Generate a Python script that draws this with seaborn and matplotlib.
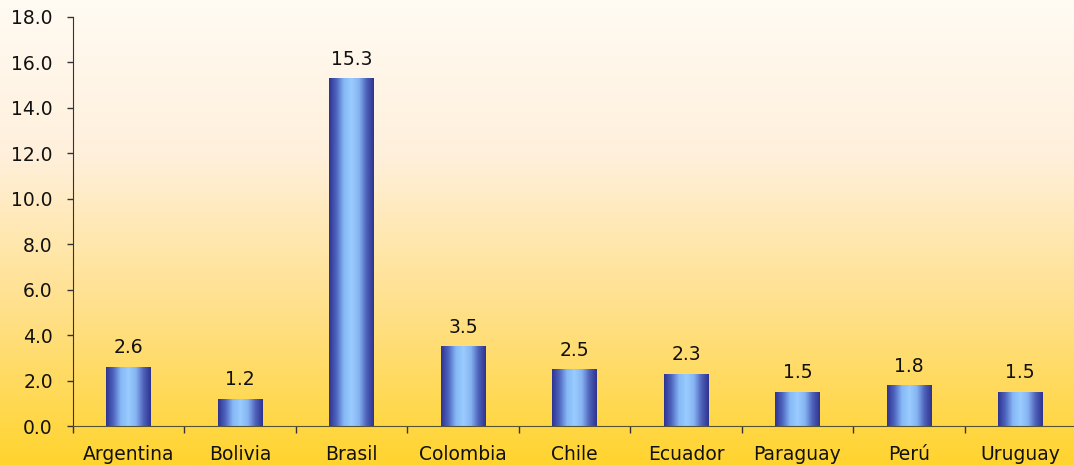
import numpy as np
import pandas as pd
import seaborn as sns
import matplotlib.pyplot as plt
from matplotlib.colors import LinearSegmentedColormap

countries = ['Argentina', 'Bolivia', 'Brasil', 'Colombia', 'Chile',
             'Ecuador', 'Paraguay', 'Perú', 'Uruguay']
values = [2.6, 1.2, 15.3, 3.5, 2.5, 2.3, 1.5, 1.8, 1.5]
yticks = [0, 2, 4, 6, 8, 10, 12, 14, 16, 18]

df = pd.DataFrame({'pais': countries, 'valor': values})

sns.set_style('ticks')
plt.rcParams['font.family'] = ['DejaVu Sans']
fs = 13.5

fig = plt.figure(figsize=(10.74, 4.65), dpi=100)

# background gradient (light cream on top -> yellow-orange at bottom)
bg = fig.add_axes([0, 0, 1, 1], zorder=-10)
bg_cmap = LinearSegmentedColormap.from_list('bg', ['#FFD42E', '#FFE08A', '#FFF0DC', '#FFFBF3'])
bg.imshow(np.linspace(0, 1, 256).reshape(-1, 1), aspect='auto', cmap=bg_cmap,
          origin='lower', extent=[0, 1, 0, 1])
bg.axis('off')

ax = fig.add_axes([73 / 1074, (465 - 426) / 465, (1076 - 73) / 1074, (426 - 17) / 465])
ax.patch.set_alpha(0)

sns.barplot(data=df, x='pais', y='valor', width=0.4, color='#6699ee', ax=ax)

# cylinder-like horizontal gradient for each bar
bar_cmap = LinearSegmentedColormap.from_list(
    'bar', ['#2E3390', '#4F66C0', '#86B8F6', '#99CCFF', '#86B4F2', '#4F62BA', '#2E3390'])
grad = np.linspace(0, 1, 256).reshape(1, -1)
for p in ax.patches:
    x0, y0 = p.get_x(), p.get_y()
    w, h = p.get_width(), p.get_height()
    im = ax.imshow(grad, aspect='auto', cmap=bar_cmap,
                   extent=[x0, x0 + w, y0, y0 + h], zorder=2)
    im.set_clip_path(p)
    p.set_facecolor('none')
    p.set_edgecolor('none')

for i, v in enumerate(values):
    ax.text(i, v + 0.42, f'{v:.1f}', ha='center', va='bottom', fontsize=fs, color='#111111')

ax.set_xlim(-0.5, len(countries) - 0.5)
ax.set_ylim(0, 18)
ax.set_yticks(yticks)
ax.set_yticklabels([f'{t:.1f}' for t in yticks])
ax.set_xticks(range(len(countries)))
ax.set_xticklabels(countries)
ax.set_xticks(np.arange(-0.5, len(countries) - 0.5, 1), minor=True)
ax.tick_params(axis='x', which='major', length=0, pad=14, labelsize=fs, labelcolor='#111111')
ax.tick_params(axis='x', which='minor', length=5, width=1, color='#333333')
ax.tick_params(axis='y', length=4.5, width=1, color='#333333', labelsize=fs, pad=10,
               labelcolor='#111111')
ax.set_xlabel('')
ax.set_ylabel('')
sns.despine(ax=ax, top=True, right=True)
ax.spines['left'].set_color('#333333')
ax.spines['bottom'].set_color('#555533')

plt.savefig('out.png', dpi=100)
